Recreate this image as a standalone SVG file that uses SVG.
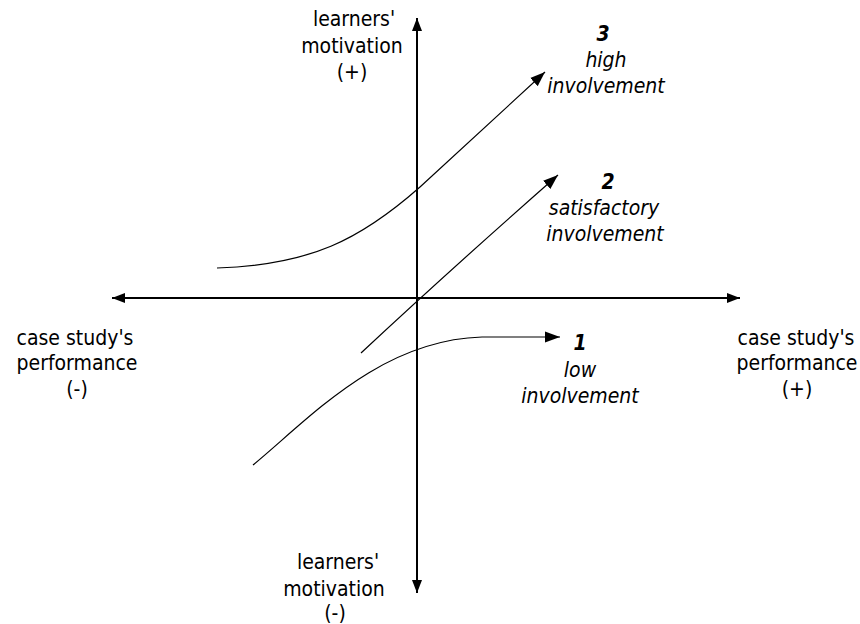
<svg xmlns="http://www.w3.org/2000/svg" width="860" height="624" viewBox="0 0 860 624">
<style>
text{font-family:'DejaVu Sans Condensed','Liberation Sans',sans-serif;font-size:21px;fill:#000;text-anchor:middle}
.it{font-style:italic}
.num{font-style:italic;font-weight:bold}
.axis{stroke:#000;stroke-width:2;fill:none}
.curve{stroke:#000;stroke-width:1.2;fill:none}
</style>
<defs>
<marker id="ah" markerUnits="userSpaceOnUse" markerWidth="14" markerHeight="11" refX="13" refY="5" orient="auto-start-reverse" viewBox="0 0 14 10">
<path d="M0,0 L13,5 L0,10 Z" fill="#000"/>
</marker>
<marker id="ch" markerUnits="userSpaceOnUse" markerWidth="16" markerHeight="12" refX="15" refY="5.5" orient="auto" viewBox="0 0 16 11">
<path d="M0,0 L15,5.5 L0,11 Z" fill="#000"/>
</marker>
</defs>
<g id="connectors">
<line id="h-axis" class="axis" x1="112" y1="298" x2="740" y2="298" marker-start="url(#ah)" marker-end="url(#ah)"/>
<line id="v-axis" class="axis" x1="417" y1="18" x2="417" y2="593" marker-start="url(#ah)" marker-end="url(#ah)"/>
<path id="curve3" class="curve" d="M217,268 C310,265 360,240 420,187 L545,72" marker-end="url(#ch)"/>
<path id="curve2" class="curve" d="M361,353 Q450,270 558,175" marker-end="url(#ch)"/>
<path id="curve1" class="curve" d="M253,465 C310,418 380,340 482,337 L560,337" marker-end="url(#ch)"/>
</g>
<g id="label-top">
<text x="354" y="26">learners'</text>
<text x="352" y="53">motivation</text>
<text x="352" y="79">(+)</text>
</g>
<g id="label-bottom">
<text x="338" y="569">learners'</text>
<text x="334" y="596">motivation</text>
<text x="335" y="620">(-)</text>
</g>
<g id="label-left">
<text x="75" y="345">case study's</text>
<text x="77" y="370">performance</text>
<text x="77" y="396">(-)</text>
</g>
<g id="label-right">
<text x="796" y="345">case study's</text>
<text x="797" y="370">performance</text>
<text x="797" y="396">(+)</text>
</g>
<g id="label-3">
<text class="num" x="603" y="41">3</text>
<text class="it" x="606" y="67">high</text>
<text class="it" x="606" y="93">involvement</text>
</g>
<g id="label-2">
<text class="num" x="608" y="189">2</text>
<text class="it" x="604" y="215">satisfactory</text>
<text class="it" x="605" y="241">involvement</text>
</g>
<g id="label-1">
<text class="num" x="580" y="350">1</text>
<text class="it" x="580" y="377">low</text>
<text class="it" x="580" y="403">involvement</text>
</g>
</svg>
